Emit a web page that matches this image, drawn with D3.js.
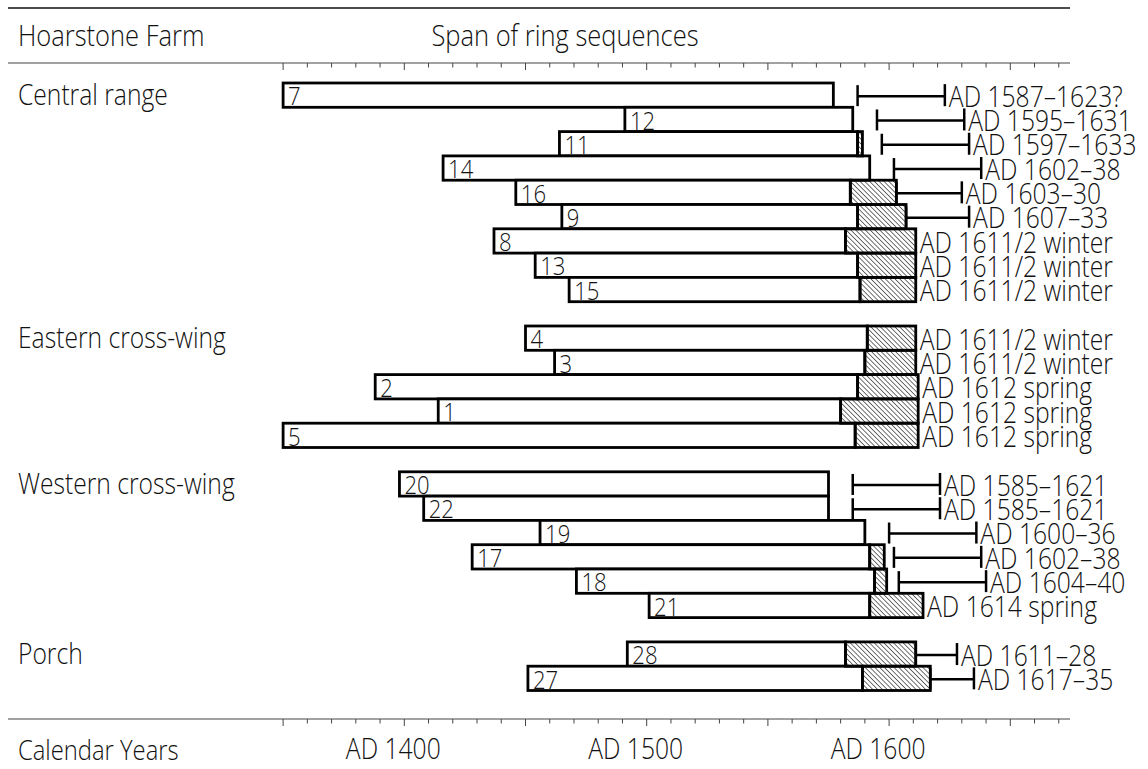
<!DOCTYPE html>
<html>
<head>
<meta charset="utf-8">
<script src="https://cdn.jsdelivr.net/npm/d3@7"></script>
<style>
  body { margin: 0; background: #fff; }
  text { font-family: "Open Sans", "Liberation Sans", sans-serif; font-weight: 300; fill: #111; }
</style>
</head>
<body>
<div class="vis"></div>
<script>
// groups of timbers and the row each group title sits on
const groups = ["Central range", "Eastern cross-wing", "Western cross-wing", "Porch"];
const groupRows = [0, 10, 16, 23];

// one entry per sample (calendar years AD)
const samples = ["7", "12", "11", "14", "16", "9", "8", "13", "15",
  "4", "3", "2", "1", "5",
  "20", "22", "19", "17", "18", "21",
  "28", "27"];
const rows = [0, 1, 2, 3, 4, 5, 6, 7, 8,
  10, 11, 12, 13, 14,
  16, 17, 18, 19, 20, 21,
  23, 24];
const startYears = [1350, 1491, 1464, 1416, 1446, 1465, 1437, 1454, 1468,
  1450, 1462, 1388, 1414, 1350,
  1398, 1408, 1456, 1428, 1471, 1501,
  1492, 1451];
const heartwoodEnd = [1577, 1585, 1587, 1592, 1584, 1587, 1582, 1587, 1588,
  1591, 1590, 1587, 1580, 1586,
  1575, 1575, 1590, 1592, 1594, 1592,
  1582, 1589];
const sapwoodEnd = [null, null, 1589, null, 1603, 1607, 1611, 1611, 1611,
  1611, 1611, 1612, 1612, 1612,
  null, null, null, 1598, 1599, 1614,
  1611, 1617];
const fellingFrom = [1587, 1595, 1597, 1602, 1603, 1607, null, null, null,
  null, null, null, null, null,
  1585, 1585, 1600, 1602, 1604, null,
  1611, 1617];
const fellingTo = [1623, 1631, 1633, 1638, 1630, 1633, null, null, null,
  null, null, null, null, null,
  1621, 1621, 1636, 1638, 1640, null,
  1628, 1635];
const dateLabels = ["AD 1587–1623?", "AD 1595–1631", "AD 1597–1633", "AD 1602–38", "AD 1603–30", "AD 1607–33",
  "AD 1611/2 winter", "AD 1611/2 winter", "AD 1611/2 winter",
  "AD 1611/2 winter", "AD 1611/2 winter", "AD 1612 spring", "AD 1612 spring", "AD 1612 spring",
  "AD 1585–1621", "AD 1585–1621", "AD 1600–36", "AD 1602–38", "AD 1604–40", "AD 1614 spring",
  "AD 1611–28", "AD 1617–35"];

const tickYears = d3.range(1350, 1671, 10);
const labelYears = [1400, 1500, 1600];

const width = 1148, height = 769;
const lineLeft = 8, lineRight = 1070;
const narrow = 0.85; // the original face is tall and narrow

const svg = d3.select(".vis").append("svg")
  .attr("width", width)
  .attr("height", height);

// hatching for the sapwood part
svg.append("defs").append("pattern")
  .attr("id", "hatch")
  .attr("patternUnits", "userSpaceOnUse")
  .attr("width", 3.4)
  .attr("height", 3.4)
  .attr("patternTransform", "rotate(-45)")
  .append("line")
  .attr("x1", 0).attr("y1", 0)
  .attr("x2", 0).attr("y2", 3.4)
  .attr("stroke", "#333")
  .attr("stroke-width", 1.4);

const x = d3.scaleLinear().domain([1400, 1600]).range([404.3, 889.1]);
const y = d3.scaleLinear().domain([0, 25]).range([83, 690.5]);
const band = y(1) - y(0);

const place = (px, py) => "translate(" + px + "," + py + ") scale(" + narrow + ",1)";

// header rules and titles
svg.append("line")
  .attr("x1", lineLeft).attr("x2", lineRight)
  .attr("y1", 8).attr("y2", 8)
  .attr("stroke", "#111").attr("stroke-width", 1.5);

svg.append("text").attr("transform", place(18, 46))
  .attr("font-size", 30).text("Hoarstone Farm");
svg.append("text").attr("transform", place(565, 46))
  .attr("text-anchor", "middle")
  .attr("font-size", 30).text("Span of ring sequences");

// axes: same ticks top and bottom, long ticks every 50 years
const drawAxis = (yPos, withLabels) => {
  const g = svg.append("g").attr("transform", "translate(0," + yPos + ")");
  g.append("line")
    .attr("x1", lineLeft).attr("x2", lineRight)
    .attr("stroke", "#444").attr("stroke-width", 1);
  g.selectAll(".tick")
    .data(tickYears)
    .enter()
    .append("line")
    .attr("x1", (d) => x(d)).attr("x2", (d) => x(d))
    .attr("y1", 0)
    .attr("y2", (d) => (d % 50 === 0 ? 7 : 4.5))
    .attr("stroke", "#444").attr("stroke-width", 1);
  if (withLabels) {
    g.selectAll(".lab")
      .data(labelYears)
      .enter()
      .append("text")
      .attr("transform", (d) => place(x(d) - 11, 40))
      .attr("text-anchor", "middle")
      .attr("font-size", 29)
      .text((d) => "AD " + d);
  }
};
drawAxis(63, false);
drawAxis(719, true);

svg.append("text").attr("transform", place(18, 760))
  .attr("font-size", 28).text("Calendar Years");

// group titles
svg.selectAll(".group")
  .data(groups)
  .enter()
  .append("text")
  .attr("transform", (d, i) => place(18, y(groupRows[i] + 1) - 2))
  .attr("font-size", 29)
  .text((d) => d);

const data = samples.map((s, i) => ({
  id: s,
  row: rows[i],
  start: startYears[i],
  heart: heartwoodEnd[i],
  sap: sapwoodEnd[i],
  from: fellingFrom[i],
  to: fellingTo[i],
  label: dateLabels[i],
}));

const bars = svg.append("g");

// heartwood (white) part
bars.selectAll(".heart")
  .data(data)
  .enter()
  .append("rect")
  .attr("x", (d) => x(d.start))
  .attr("y", (d) => y(d.row))
  .attr("width", (d) => x(d.heart) - x(d.start))
  .attr("height", band)
  .attr("fill", "#fff")
  .attr("stroke", "#000")
  .attr("stroke-width", 2.8);

// sapwood (hatched) part
bars.selectAll(".sap")
  .data(data.filter((d) => d.sap !== null))
  .enter()
  .append("rect")
  .attr("x", (d) => x(d.heart))
  .attr("y", (d) => y(d.row))
  .attr("width", (d) => x(d.sap) - x(d.heart))
  .attr("height", band)
  .attr("fill", "url(#hatch)")
  .attr("stroke", "#000")
  .attr("stroke-width", 2.8);

// sample numbers inside the bars
bars.selectAll(".num")
  .data(data)
  .enter()
  .append("text")
  .attr("transform", (d) => place(x(d.start) + 5, y(d.row + 1) - 2))
  .attr("font-size", 26)
  .text((d) => d.id);

// felling date ranges
const ranges = data.filter((d) => d.from !== null);
const fell = svg.append("g").attr("stroke", "#000").attr("stroke-width", 2.5);

fell.selectAll(".span")
  .data(ranges)
  .enter()
  .append("line")
  .attr("x1", (d) => x(d.from))
  .attr("x2", (d) => x(d.to))
  .attr("y1", (d) => y(d.row + 0.5) + 1)
  .attr("y2", (d) => y(d.row + 0.5) + 1);

fell.selectAll(".from")
  .data(ranges)
  .enter()
  .append("line")
  .attr("x1", (d) => x(d.from))
  .attr("x2", (d) => x(d.from))
  .attr("y1", (d) => y(d.row + 0.5) - 10)
  .attr("y2", (d) => y(d.row + 0.5) + 11);

fell.selectAll(".to")
  .data(ranges)
  .enter()
  .append("line")
  .attr("x1", (d) => x(d.to))
  .attr("x2", (d) => x(d.to))
  .attr("y1", (d) => y(d.row + 0.5) - 11)
  .attr("y2", (d) => y(d.row + 0.5) + 11);

// date labels to the right
svg.selectAll(".date")
  .data(data)
  .enter()
  .append("text")
  .attr("transform", (d) => place(x(d.to !== null ? d.to : d.sap) + 4, y(d.row + 1) - 0.5))
  .attr("font-size", 29)
  .text((d) => d.label);
</script>
</body>
</html>
